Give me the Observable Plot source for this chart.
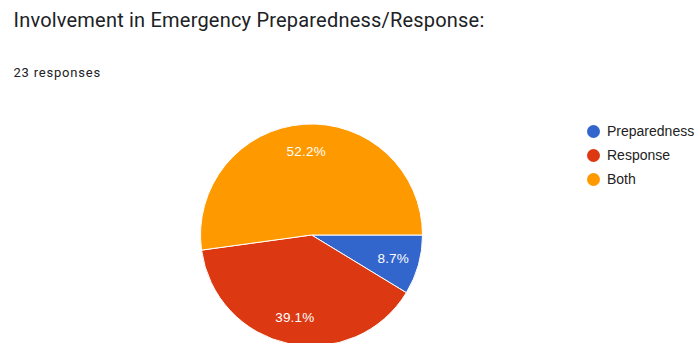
<!DOCTYPE html>
<html>
<head>
<meta charset="utf-8">
<script src="https://cdn.jsdelivr.net/npm/d3@7"></script>
<script src="https://cdn.jsdelivr.net/npm/@observablehq/plot@0.6"></script>
<style>
  html, body { margin: 0; padding: 0; background: #fff; }
  #chart svg { display: block; }
  .ttl { letter-spacing: 0.2px; }
  .sub { letter-spacing: 0.8px; }
  .lbl { letter-spacing: 0.2px; }
</style>
</head>
<body>
<div id="chart"></div>
<script>
const categories = ["Preparedness", "Response", "Both"];
const counts = [2, 9, 12];
const colors = ["#3366cc", "#dc3912", "#ff9900"];
const title = "Involvement in Emergency Preparedness/Response:";
const subtitle = "23 responses";

const W = 698, H = 343;
const cx = 311.5, cy = 235, R = 111;
const total = d3.sum(counts);

const pie = d3.pie().sort(null).value(d => d.count)
  .startAngle(Math.PI / 2).endAngle(Math.PI / 2 + 2 * Math.PI);
const slices = pie(categories.map((c, i) => ({category: c, count: counts[i]})));
const sliceData = slices.map(s => {
  const mid = (s.startAngle + s.endAngle) / 2;
  const lr = R * 0.76;
  return {
    category: s.data.category,
    count: s.data.count,
    startAngle: s.startAngle,
    endAngle: s.endAngle,
    label: (100 * s.data.count / total).toFixed(1) + "%",
    lx: cx + Math.sin(mid) * lr,
    ly: cy - Math.cos(mid) * lr
  };
});

const legendData = categories.map((c, i) => ({category: c, lx: 593, ly: 131 + i * 24}));

const arcGen = d3.arc();

const pieMark = Plot.dot(sliceData, {
  x: () => cx, y: () => cy, fill: "category",
  render(index, scales, values, dimensions, context) {
    const g = d3.create("svg:g");
    const px = scales.x(cx), py = scales.y(cy);
    const pr = scales.x(cx + R) - px;
    for (const i of index) {
      const d = sliceData[i];
      g.append("path")
        .attr("transform", `translate(${px},${py})`)
        .attr("d", arcGen({innerRadius: 0, outerRadius: pr, startAngle: d.startAngle, endAngle: d.endAngle}))
        .attr("fill", scales.color(d.category))
        .attr("stroke", "#ffffff")
        .attr("stroke-width", 1)
        .attr("stroke-linejoin", "round");
    }
    return g.node();
  }
});

const chart = Plot.plot({
  width: W, height: H,
  margin: 0,
  x: {domain: [0, W], range: [0, W], axis: null},
  y: {domain: [0, H], range: [0, H], axis: null},
  color: {domain: categories, range: colors},
  style: {background: "#ffffff"},
  marks: [
    pieMark,
    Plot.text(sliceData, {x: "lx", y: "ly", text: "label", fill: "#ffffff", className: "lbl",
      fontSize: 13.5, fontFamily: "Arial, 'Liberation Sans', sans-serif"}),
    Plot.dot(legendData, {x: "lx", y: "ly", r: 6.5, fill: "category"}),
    Plot.text(legendData, {x: d => d.lx + 13.5, y: "ly", text: "category", textAnchor: "start",
      fill: "#222222", fontSize: 14, fontFamily: "Arial, 'Liberation Sans', sans-serif"}),
    Plot.text([title], {x: () => 13, y: () => 20, text: d => d, textAnchor: "start", className: "ttl",
      fill: "#202124", fontSize: 20, fontFamily: "Roboto, sans-serif"}),
    Plot.text([subtitle], {x: () => 13, y: () => 72, text: d => d, textAnchor: "start", className: "sub",
      fill: "#202124", fontSize: 13, fontFamily: "Roboto, sans-serif"})
  ]
});

document.getElementById("chart").appendChild(chart);
</script>
</body>
</html>
